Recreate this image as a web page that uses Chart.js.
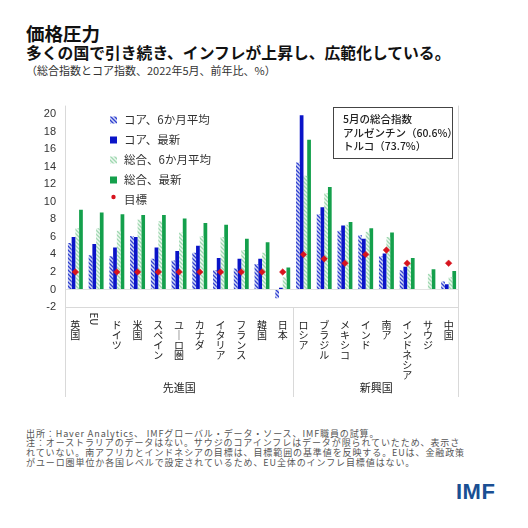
<!DOCTYPE html>
<html>
<head>
<meta charset="utf-8">
<script src="https://cdn.jsdelivr.net/npm/chart.js@4.4.1/dist/chart.umd.min.js"></script>
<style>
  html, body { margin:0; padding:0; background:#fff; }
  body { width:528px; height:528px; position:relative; overflow:hidden; font-family:"Noto Sans CJK JP","Noto Sans",sans-serif; color:#111; }
  .abs { position:absolute; white-space:pre; }
  #title { left:26px; top:23px; font-size:18.5px; line-height:20px; font-weight:700; }
  #subtitle { left:26px; top:44px; font-size:15.8px; line-height:18px; font-weight:700; }
  #unit { left:26px; top:64px; font-size:11px; line-height:13px; color:#333; }
  #chartWrap { position:absolute; left:0; top:90px; width:528px; height:310px; }
  #note { left:26px; top:428.5px; font-size:9px; letter-spacing:0.9px; line-height:9.8px; color:#555; }
  #box { position:absolute; left:333px; top:107px; width:118px; height:50px; border:1px solid #444; background:#fff; }
  #box div { position:absolute; left:9px; font-size:10.5px; line-height:12px; color:#222; font-weight:500; white-space:pre; }
  #logo { left:456px; top:480px; font-family:"Liberation Sans",Arial,sans-serif; font-weight:700; font-size:22px; line-height:24px; color:#1a4f93; letter-spacing:0.5px; }
</style>
</head>
<body>
<div id="title" class="abs">価格圧力</div>
<div id="subtitle" class="abs">多くの国で引き続き、インフレが上昇し、広範化している。</div>
<div id="unit" class="abs">（総合指数とコア指数、2022年5月、前年比、%）</div>
<div id="chartWrap"><canvas id="c" width="528" height="310"></canvas></div>
<div id="box">
  <div style="top:5px">5月の総合指数</div>
  <div style="top:19px">アルゼンチン（60.6%）</div>
  <div style="top:32px">トルコ（73.7%）</div>
</div>
<div id="note" class="abs">出所：Haver Analytics、 IMFグローバル・データ・ソース、IMF職員の試算。
注：オーストラリアのデータはない。サウジのコアインフレはデータが限られていたため、表示さ
れていない。南アフリカとインドネシアの目標は、目標範囲の基準値を反映する。EUは、金融政策
がユーロ圏単位か各国レベルで設定されているため、EU全体のインフレ目標値はない。</div>
<div id="logo" class="abs">IMF</div>
<script>
// ---- data ----
const categories = ['英国','EU','ドイツ','米国','スペイン','ユーロ圏','カナダ','イタリア','フランス','韓国','日本','ロシア','ブラジル','メキシコ','インド','南ア','インドネシア','サウジ','中国'];
const coreAvg    = [5.3, 3.9, 3.8, 6.1, 3.5, 3.3, 4.2, 2.2, 2.4, 2.9, -1.0, 14.5, 8.6, 6.7, 6.2, 3.8, 2.2, null, 0.9];
const coreLatest = [6.0, 5.2, 4.8, 6.0, 4.8, 4.4, 5.0, 3.6, 3.5, 3.5, 0.2, 19.9, 9.4, 7.3, 5.8, 4.1, 2.6, null, 0.6];
const headAvg    = [7.0, 7.0, 6.7, 8.0, 7.8, 6.5, 6.1, 6.0, 4.5, 4.2, 1.4, 13.0, 11.0, 7.4, 6.6, 6.0, 3.1, 1.8, 1.4];
const headLatest = [9.1, 8.8, 8.6, 8.5, 8.5, 8.1, 7.6, 7.4, 5.8, 5.4, 2.5, 17.1, 11.7, 7.7, 7.0, 6.5, 3.6, 2.3, 2.1];
const targets    = [2, null, 2, 2, 2, 2, 2, 2, 2, 2, 2, 4, 3.5, 3, 4, 4.5, 3, null, 3];
const seriesNames = ['コア、6か月平均','コア、最新','総合、6か月平均','総合、最新','目標'];
const yTicks = [-2,0,2,4,6,8,10,12,14,16,18,20];
const groups = [{name:'先進国', from:0, to:10}, {name:'新興国', from:11, to:18}];

function hatch(line, bg) {
  const p = document.createElement('canvas');
  p.width = 4; p.height = 4;
  const g = p.getContext('2d');
  g.fillStyle = bg; g.fillRect(0,0,4,4);
  g.strokeStyle = line; g.lineWidth = 1.3;
  g.beginPath();
  g.moveTo(-1,-1); g.lineTo(5,5);
  g.moveTo(-1,3); g.lineTo(1,5);
  g.moveTo(3,-1); g.lineTo(5,1);
  g.stroke();
  return document.getElementById('c').getContext('2d').createPattern(p,'repeat');
}
const blueHatch = hatch('#2f3fd0', '#d6dcf6');
const greenHatch = hatch('#9ed8b0', '#eef8f1');
const colors = [blueHatch, '#0a14c8', greenHatch, '#14a04c', '#d7141e'];

const FONT = '"Noto Sans CJK JP","Noto Sans",sans-serif';

const decor = {
  id: 'decor',
  afterDraw(chart) {
    const ctx = chart.ctx, a = chart.chartArea, x = chart.scales.x;
    const bottomExt = 307;
    ctx.save();
    ctx.strokeStyle = '#d9d9d9'; ctx.lineWidth = 1;
    ctx.beginPath();
    const L = Math.round(a.left)+0.5, R = Math.round(a.right)-0.5, B = Math.round(a.bottom)+0.5;
    ctx.moveTo(L, a.top); ctx.lineTo(L, bottomExt);
    ctx.moveTo(R, a.top); ctx.lineTo(R, bottomExt);
    ctx.moveTo(a.left, B); ctx.lineTo(a.right, B);
    const div = Math.round((x.getPixelForValue(10)+x.getPixelForValue(11))/2)+0.5;
    ctx.moveTo(div, a.bottom); ctx.lineTo(div, bottomExt);
    ctx.stroke();
    // group labels
    ctx.fillStyle = '#222';
    ctx.font = '11px ' + FONT;
    ctx.textAlign = 'center'; ctx.textBaseline = 'middle';
    const bounds = [a.left, div, a.right];
    groups.forEach((g, i) => {
      ctx.fillText(g.name, (bounds[i]+bounds[i+1])/2, 298);
    });
    // rotated EU label
    ctx.save();
    ctx.translate(x.getPixelForValue(1)-2, 229);
    ctx.rotate(Math.PI/2);
    ctx.font = '10px ' + FONT;
    ctx.fillText('EU', 0, 0);
    ctx.restore();
    // legend
    ctx.font = '11.5px ' + FONT;
    ctx.textAlign = 'left';
    seriesNames.forEach((name, i) => {
      const cy = 30 + 20*i;
      if (i < 4) {
        ctx.fillStyle = colors[i];
        ctx.fillRect(110, cy-3.5, 7, 7);
      } else {
        ctx.fillStyle = colors[4];
        ctx.beginPath(); ctx.arc(113.5, cy-3, 2.2, 0, Math.PI*2); ctx.fill();
      }
      ctx.fillStyle = '#333';
      ctx.fillText(name, 124, cy);
    });
    ctx.restore();
  }
};

const barDs = (i, data) => ({
  type: 'bar', label: seriesNames[i], data, backgroundColor: colors[i],
  borderWidth: 0, categoryPercentage: 0.72, barPercentage: 1.0, order: 2
});

new Chart(document.getElementById('c'), {
  type: 'bar',
  data: {
    labels: categories,
    datasets: [
      barDs(0, coreAvg), barDs(1, coreLatest), barDs(2, headAvg), barDs(3, headLatest),
      { type: 'line', label: seriesNames[4], data: targets, showLine: false,
        pointStyle: 'rectRot', pointRadius: 3.3, pointBackgroundColor: colors[4],
        pointBorderColor: colors[4], pointBorderWidth: 0.5, order: 0 }
    ]
  },
  options: {
    responsive: false, animation: false,
    layout: { padding: { top: 7, right: 69, bottom: 0, left: 0 } },
    plugins: { legend: { display: false }, tooltip: { enabled: false } },
    scales: {
      x: {
        offset: true,
        grid: { display: false },
        border: { display: false },
        ticks: {
          autoSkip: false, maxRotation: 0, minRotation: 0, padding: 5, color: '#222',
          font: { family: FONT, size: 10, lineHeight: 1.0 },
          callback: (v, i) => i === 1 ? [''] : Array.from(categories[i].replace('ー','｜'))
        },
        afterFit: s => { s.height = 93; }
      },
      y: {
        min: -2, max: 21,
        afterBuildTicks: s => { s.ticks = yTicks.map(v => ({ value: v })); },
        grid: {
          drawTicks: false,
          color: c => c.tick && c.tick.value === 0 ? '#e3e3e3' : 'rgba(0,0,0,0)'
        },
        border: { display: false },
        ticks: { padding: 9, color: '#333', font: { family: '"Liberation Sans", Arial, sans-serif', size: 11 } },
        afterFit: s => { s.width = 65; }
      }
    }
  },
  plugins: [decor]
});
</script>
</body>
</html>
